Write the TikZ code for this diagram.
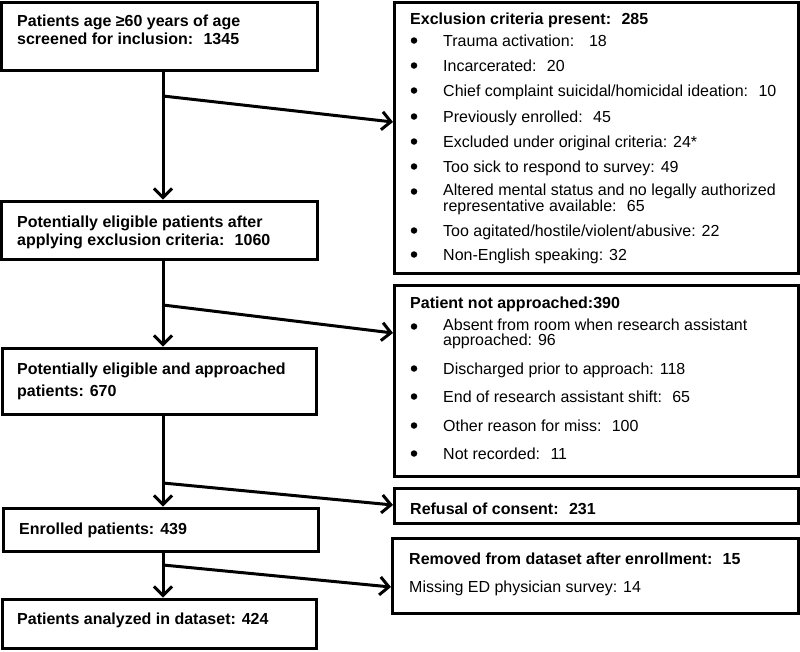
\documentclass[tikz,border=0pt]{standalone}
\usepackage{fontspec}
\setmainfont{Liberation Sans}
\usetikzlibrary{arrows.meta}
\begin{document}
\begin{tikzpicture}[x=1pt,y=-1pt,
  box/.style={draw=black,line width=3pt,inner sep=0pt,fill=white},
  flow/.style={line width=3pt,-{Straight Barb[length=9pt,width=18pt,line width=3pt]}},
  bt/.style={anchor=base west,inner sep=0pt,font=\fontsize{16}{18}\selectfont\bfseries},
  rt/.style={anchor=base west,inner sep=0pt,font=\fontsize{16}{18}\selectfont},
  rt2/.style={anchor=north west,inner sep=0pt,align=left,font=\fontsize{16}{14.5}\selectfont},
  bul/.style={circle,fill=black,inner sep=0pt,minimum size=6.5pt}]
\useasboundingbox[fill=white] (0,0) rectangle (800,651);
% left boxes
\node[box,minimum width=316pt,minimum height=68pt] (b1) at (159,36) {};
\node[box,minimum width=316pt,minimum height=58pt] (b2) at (159,230) {};
\node[box,minimum width=314pt,minimum height=66pt] (b3) at (159,381) {};
\node[box,minimum width=315pt,minimum height=43pt] (b4) at (160.5,529.5) {};
\node[box,minimum width=314pt,minimum height=49pt] (b5) at (159,623.5) {};
% right boxes
\node[box,minimum width=404pt,minimum height=271pt] (r1) at (596,137.5) {};
\node[box,minimum width=404pt,minimum height=191pt] (r2) at (596,380.5) {};
\node[box,minimum width=404pt,minimum height=35pt] (r3) at (596,505.5) {};
\node[box,minimum width=406pt,minimum height=75pt] (r4) at (595,575.5) {};
% left texts
\node[bt] (t1a) at (17,26) {Patients age ≥60 years of age};
\node[bt] (t1b) at (17,44) {screened for inclusion:~ 1345};
\node[bt] (t2a) at (17,227) {Potentially eligible patients after};
\node[bt] (t2b) at (17,245) {applying exclusion criteria:~ 1060};
\node[bt] (t3a) at (17,374) {Potentially eligible and approached};
\node[bt] (t3b) at (17,396) {patients: 670};
\node[bt] (t4) at (19,534) {Enrolled patients: 439};
\node[bt] (t5) at (17,624) {Patients analyzed in dataset: 424};
% R1
\node[bt] (h1) at (410,24) {Exclusion criteria present:~ 285};
\foreach \y/\t [count=\i] in {46/{Trauma activation:~~ 18},71/{Incarcerated:~ 20},96/{Chief complaint suicidal/homicidal ideation:~ 10},122/{Previously enrolled:~ 45},147/{Excluded under original criteria: 24*},172/{Too sick to respond to survey: 49},236/{Too agitated/hostile/violent/abusive: 22},260/{Non-English speaking: 32}}{
  \node[bul] (ba\i) at (414,\y-5.5) {};
  \node[rt] (ia\i) at (443,\y) {\t};
}
\node[bul] (ba9) at (414,191.5) {};
\node[rt2] (ia9) at (443,184) {Altered mental status and no legally authorized\\representative available:~ 65};
% R2
\node[bt] (h2) at (410,308) {Patient not approached:390};
\foreach \y/\t [count=\i] in {374/{Discharged prior to approach: 118},402/{End of research assistant shift:~ 65},431/{Other reason for miss:~ 100},459/{Not recorded:~ 11}}{
  \node[bul] (bb\i) at (414,\y-5.5) {};
  \node[rt] (ib\i) at (443,\y) {\t};
}
\node[bul] (bb5) at (414,326.5) {};
\node[rt2] (ib5) at (443,319) {Absent from room when research assistant\\approached: 96};
% R3, R4
\node[bt] (h3) at (410,514) {Refusal of consent:~ 231};
\node[bt] (h4) at (409,564) {Removed from dataset after enrollment:~ 15};
\node[rt] (i4) at (409,592) {Missing ED physician survey: 14};
% connectors
\coordinate (j1) at (163,96);  \coordinate (e1) at (393,122);
\coordinate (j2) at (163,305); \coordinate (e2) at (393,333);
\coordinate (j3) at (163,483); \coordinate (e3) at (393,505);
\coordinate (j4) at (163,565); \coordinate (e4) at (391,587);
\draw[flow] (b1.south -| j1) -- (b2.north -| j1);
\draw[flow] (b2.south -| j2) -- (b3.north -| j2);
\draw[flow] (b3.south -| j3) -- (b4.north -| j3);
\draw[flow] (b4.south -| j4) -- (b5.north -| j4);
\draw[flow] (j1) -- (e1);
\draw[flow] (j2) -- (e2);
\draw[flow] (j3) -- (e3);
\draw[flow] (j4) -- (e4);
\end{tikzpicture}
\end{document}
